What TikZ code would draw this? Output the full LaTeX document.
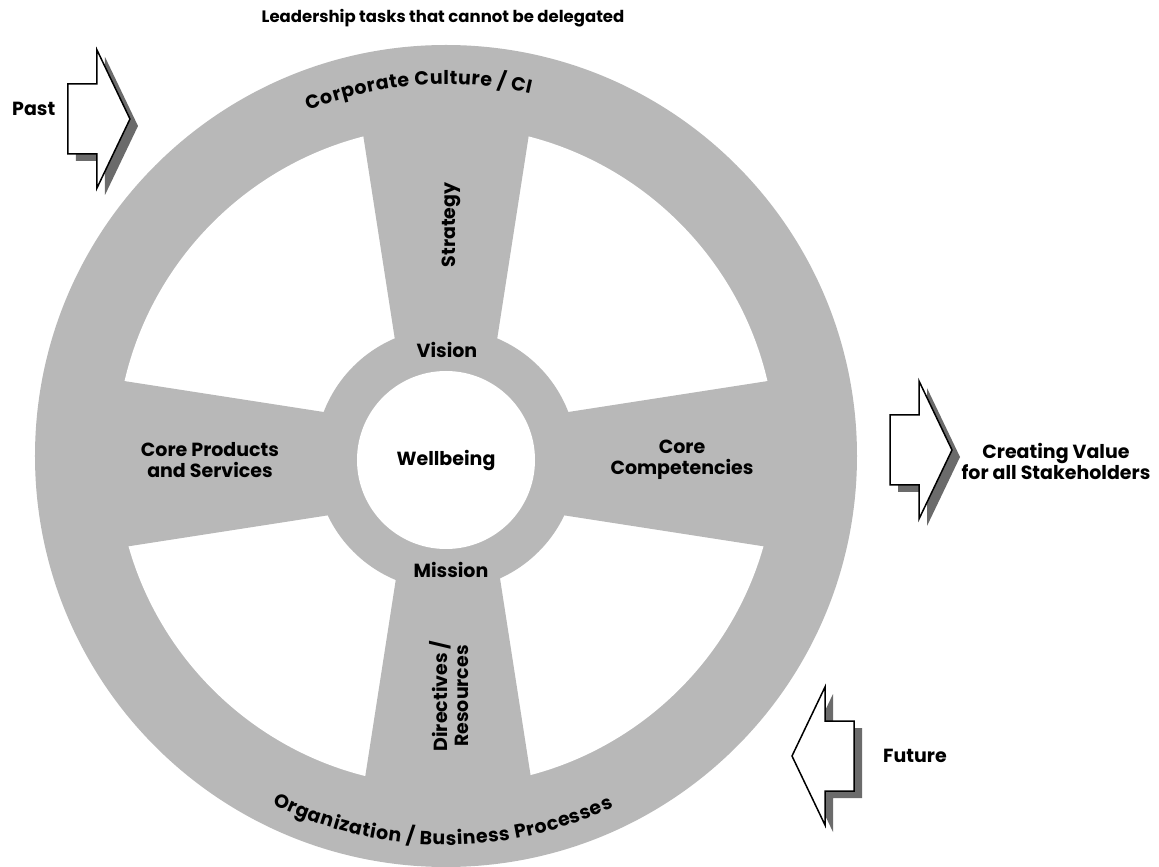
\documentclass[tikz,border=0pt]{standalone}
\usepackage{fontspec}
\setmainfont{Poppins}
\usepackage{tikz}
\usetikzlibrary{decorations.text}

\definecolor{wheelgray}{gray}{0.72}
\definecolor{shadowgray}{gray}{0.42}
\newcommand{\wheelfont}{\bfseries\fontsize{19}{21}\selectfont}
\newcommand{\titlefont}{\bfseries\fontsize{16.5}{18}\selectfont}

\tikzset{
  lbl/.style={font=\wheelfont, align=center, inner sep=0pt},
  blockarrow/.style={draw=black, line width=1.5pt, fill=white, line join=miter},
  arrowshadow/.style={fill=shadowgray},
}

% block arrow: #1,#2 = middle of the shaft end, #3 = 1 (right) or -1 (left)
\newcommand{\blockarr}[3]{%
  \begin{scope}[shift={(#1,#2)}, xscale=#3]
    \fill[arrowshadow, shift={(#3*8,-7)}] (0,35) -- (29,35) -- (29,69) -- (62,0) -- (29,-69) -- (29,-35) -- (0,-35) -- cycle;
    \draw[blockarrow] (0,35) -- (29,35) -- (29,69) -- (62,0) -- (29,-69) -- (29,-35) -- (0,-35) -- cycle;
  \end{scope}}

\begin{document}
\begin{tikzpicture}[x=1pt, y=1pt]
  \useasboundingbox (-446,-411) rectangle (713,456);
  \fill[white] (-446,-411) rectangle (713,456);

  % wheel
  \fill[wheelgray] (0,0) circle (411);
  \fill[white] (0,0) circle (330);
  \fill[wheelgray] (-33,0) -- (-92,380) -- (92,380) -- (33,0) -- cycle;
  \fill[wheelgray] (-31,0) -- (-90,-380) -- (94,-380) -- (35,0) -- cycle;
  \fill[wheelgray] (0,25) -- (-380,84) -- (-380,-100) -- (0,-41) -- cycle;
  \fill[wheelgray] (0,25) -- (380,84) -- (380,-100) -- (0,-41) -- cycle;
  \fill[wheelgray] (0,-3) circle (131);
  \fill[white] (0,-4) circle (89);

  % rim texts
  \path[decorate, decoration={text along path, text align=fit to path,
      text={|\wheelfont|Corporate Culture / CI}}]
    (111.7:372) arc[start angle=111.7, end angle=76.9, radius=372];
  \path[decorate, decoration={text along path, text align=fit to path,
      text={|\wheelfont|Organization / Business Processes}}]
    (243.5:389) arc[start angle=243.5, end angle=295.5, radius=389];

  \node[lbl] (vision) at (1,106) {Vision};
  \node[lbl] (wellbeing) at (0,-5) {Wellbeing};
  \node[lbl] (mission) at (5,-114) {Mission};
  \node[lbl, rotate=90] (strategy) at (5,231) {Strategy};
  \node[lbl, rotate=90] (directives) at (3,-240) {Directives /\\Resources};
  \node[lbl] (products) at (-236,-4) {Core Products\\and Services};
  \node[lbl] (competencies) at (236,-4) {Core\\Competencies};

  % outside
  \node[lbl, font=\titlefont] (title) at (-3,438) {Leadership tasks that cannot be delegated};
  \blockarr{-378}{337}{1}
  \node[lbl, anchor=west] (past) at (-434,347) {Past};
  \blockarr{444}{6}{1}
  \node[lbl] (value) at (610,-5) {Creating Value\\for all Stakeholders};
  \blockarr{408}{-300}{-1}
  \node[lbl, anchor=west] (future) at (437,-300) {Future};
\end{tikzpicture}
\end{document}
